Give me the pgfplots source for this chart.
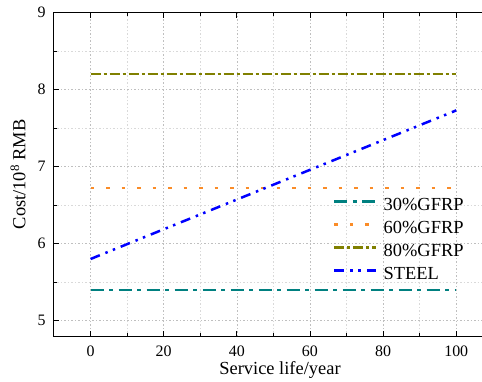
\documentclass[border=0pt]{standalone}
\usepackage{pgfplots}
\pgfplotsset{compat=1.18}
\usepackage{fontspec}
\setmainfont{Liberation Serif}
\definecolor{cteal}{RGB}{0,128,128}
\definecolor{corange}{RGB}{250,140,40}
\definecolor{colive}{RGB}{128,128,0}
\definecolor{cblue}{RGB}{0,0,255}
\begin{document}
\begin{tikzpicture}
\useasboundingbox (-54bp,-46bp) rectangle (428bp,336bp);
\clip (-54bp,-46bp) rectangle (428bp,336bp);
\begin{axis}[
  at={(0,0)}, anchor=south west,
  scale only axis, width=438.8bp, height=323.4bp,
  xmin=-10, xmax=110, ymin=4.8, ymax=9,
  xtick={0,20,...,100}, minor xtick={10,30,...,110},
  ytick={5,6,7,8,9}, minor ytick={5.5,6.5,7.5,8.5},
  tick align=inside,
  major tick length=5bp, minor tick length=3bp,
  xtick pos=both, ytick pos=left,
  grid=both,
  major grid style={gray!50, dash pattern=on 1.5bp off 2bp, line width=0.5bp},
  minor grid style={gray!30, dash pattern=on 1.5bp off 2bp, line width=0.5bp},
  axis line style={line width=1bp},
  every tick/.style={black, line width=0.8bp},
  /pgf/number format/assume math mode=true,
  ticklabel style={font=\fontsize{16}{19}\selectfont},
  xticklabel style={anchor=center, yshift=-15.5bp},
  yticklabel style={xshift=-5bp},
  label style={font=\fontsize{18.5}{22}\selectfont},
  xlabel={Service life/year},
  ylabel={Cost/10\textsuperscript{8} RMB},
  xlabel style={at={(axis description cs:0.515,-0.1195)}, anchor=base},
  ylabel style={at={(axis description cs:-0.0654,0.5)}, anchor=base},
  legend style={draw=none, fill=none, inner sep=0pt, at={(axis cs:66.3,6.597)}, anchor=north west,
    font=\fontsize{18.5}{22}\selectfont, row sep=7bp,
    nodes={inner sep=0pt, text height=13bp, text depth=3bp}},
  legend cell align=left,
  /tikz/every odd column/.append style={column sep=6bp},
  legend image code/.code={\draw[#1] (0bp,4.5bp) -- (42bp,4.5bp);},
]
\addplot[cteal, line width=2.5bp, dash pattern=on 13bp off 5.5bp on 4bp off 5.5bp] coordinates {(0,5.4) (100,5.4)};
\addlegendentry{30\%GFRP}
\addplot[corange, line width=2.5bp, dash pattern=on 3.5bp off 12bp] coordinates {(0,6.72) (100,6.72)};
\addlegendentry{60\%GFRP}
\addplot[colive, line width=2.5bp, dash pattern=on 10bp off 3bp on 3bp off 3bp] coordinates {(0,8.2) (100,8.2)};
\addlegendentry{80\%GFRP}
\addplot[cblue, line width=2.5bp, dash pattern=on 10bp off 6bp on 2.5bp off 5.5bp on 2.5bp off 6bp] coordinates {(0,5.8) (100,7.73)};
\addlegendentry{STEEL}
\end{axis}
\end{tikzpicture}
\end{document}
